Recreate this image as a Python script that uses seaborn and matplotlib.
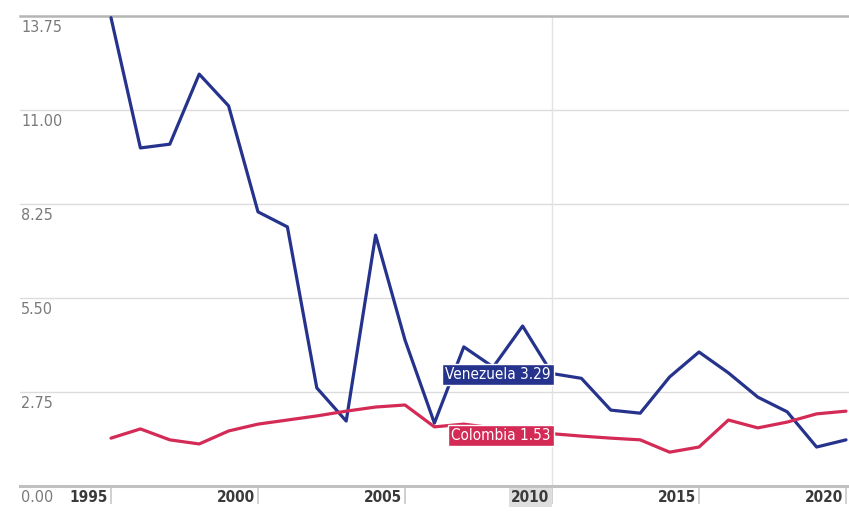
"""
Venezuela vs Colombia line chart, hover state at 2010.
"""

import matplotlib.pyplot as plt
import matplotlib.transforms as mtransforms
import pandas as pd
import seaborn as sns

YEARS = list(range(1995, 2021))
VENEZUELA = [13.70, 9.89, 10.00, 12.05, 11.12, 8.02, 7.58, 2.87, 1.90, 7.34,
             4.27, 1.84, 4.07, 3.48, 4.68, 3.29, 3.15, 2.22, 2.13, 3.19,
             3.92, 3.31, 2.60, 2.17, 1.14, 1.35]
COLOMBIA = [1.40, 1.67, 1.35, 1.23, 1.61, 1.81, 1.93, 2.05, 2.19, 2.31,
            2.37, 1.73, 1.81, 1.70, 1.61, 1.53, 1.46, 1.40, 1.35, 0.99,
            1.14, 1.93, 1.70, 1.87, 2.11, 2.19]
Y_TICKS = [0.00, 2.75, 5.50, 8.25, 11.00, 13.75]
X_TICKS = [1995, 2000, 2005, 2010, 2015, 2020]
HOVER_YEAR = 2010

COLORS = {"Venezuela": "#25338c", "Colombia": "#d42a56"}


def main() -> None:
    sns.set_theme(style="white")
    plt.rcParams["font.family"] = ["DejaVu Sans"]
    plt.rcParams["font.stretch"] = "condensed"

    df = pd.concat([
        pd.DataFrame({"year": YEARS, "value": VENEZUELA, "country": "Venezuela"}),
        pd.DataFrame({"year": YEARS, "value": COLOMBIA, "country": "Colombia"}),
    ])

    fig = plt.figure(figsize=(8.49, 5.13), dpi=100)
    ax = fig.add_axes([20 / 849, 27 / 513, 829 / 849, 470 / 513])

    sns.lineplot(data=df, x="year", y="value", hue="country", palette=COLORS,
                 linewidth=2.3, legend=False, ax=ax, clip_on=False, zorder=3)

    ax.set_xlim(1995 - 91 / 29.4, 2020 + 3 / 29.4)
    ax.set_ylim(0, 13.75)
    ax.set_xlabel("")
    ax.set_ylabel("")

    for s in ["left", "right"]:
        ax.spines[s].set_visible(False)
    ax.spines["top"].set_color("#b5b5b5")
    ax.spines["top"].set_linewidth(1.8)
    ax.spines["bottom"].set_color("#c0c0c0")
    ax.spines["bottom"].set_linewidth(2.2)

    # horizontal gridlines
    ax.set_yticks(Y_TICKS)
    ax.set_yticklabels([])
    ax.tick_params(axis="y", length=0)
    for v in Y_TICKS[1:-1]:
        ax.axhline(v, color="#dcdcdc", linewidth=1.0, zorder=0)
    ytrans = mtransforms.blended_transform_factory(ax.transAxes, ax.transData)
    for v in Y_TICKS:
        ax.annotate(f"{v:.2f}", xy=(0, v), xycoords=ytrans, xytext=(1, -3),
                    textcoords="offset points", ha="left", va="top",
                    fontsize=11.5, color="#7a7a7a")

    # x ticks: tick marks below axis, labels to the left of each mark
    ax.set_xticks(X_TICKS)
    ax.set_xticklabels([])
    ax.tick_params(axis="x", direction="out", length=13, width=1.2,
                   color="#c8c8c8", bottom=True)
    xtrans = mtransforms.blended_transform_factory(ax.transData, ax.transAxes)
    for yr in X_TICKS:
        bbox = None
        if yr == HOVER_YEAR:
            bbox = dict(boxstyle="square,pad=0.15", fc="#dedede", ec="none")
        ax.annotate(str(yr), xy=(yr, 0), xycoords=xtrans, xytext=(-2, -3),
                    textcoords="offset points", ha="right", va="top",
                    fontsize=11, fontweight="bold", color="#3a3a3a", bbox=bbox)

    # hover crosshair
    ax.axvline(HOVER_YEAR, color="#e2e2e2", linewidth=1.0, zorder=1)

    idx = YEARS.index(HOVER_YEAR)
    for name, series in [("Venezuela", VENEZUELA), ("Colombia", COLOMBIA)]:
        val = series[idx]
        ax.annotate(f"{name} {val:.2f}", xy=(HOVER_YEAR, val), xytext=(-1, -1),
                    textcoords="offset points", ha="right", va="center",
                    fontsize=11, color="white", zorder=5,
                    bbox=dict(boxstyle="square,pad=0.2", fc=COLORS[name],
                              ec="white", lw=1.0))

    fig.savefig("out.png", dpi=100)
    plt.close(fig)


if __name__ == "__main__":
    main()
